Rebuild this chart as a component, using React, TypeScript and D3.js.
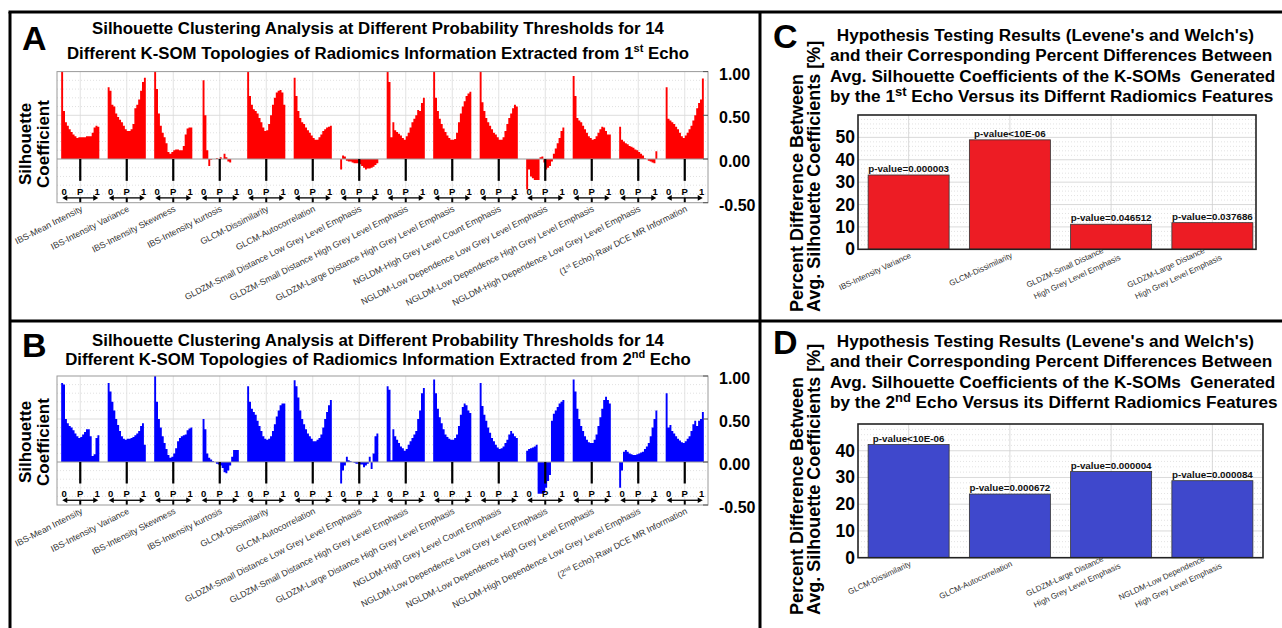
import React from 'react';
import * as d3 from 'd3';

// 14 radiomics feature groups (x categories of panels A and B)
const FEATURES = [
  'IBS-Mean Intensity',
  'IBS-Intensity Variance',
  'IBS-Intensity Skewness',
  'IBS-Intensity kurtosis',
  'GLCM-Dissimilarity',
  'GLCM-Autocorrelation',
  'GLDZM-Small Distance Low Grey Level Emphasis',
  'GLDZM-Small Distance High Grey Level Emphasis',
  'GLDZM-Large Distance High Grey Level Emphasis',
  'NGLDM-High Grey Level Count Emphasis',
  'NGLDM-Low Dependence Low Grey Level Emphasis',
  'NGLDM-Low Dependence High Grey Level Emphasis',
  'NGLDM-High Dependence Low Grey Level Emphasis',
  'Raw DCE MR Information',
];

// silhouette coefficient vs probability threshold (0 -> 1), 1st echo
const ECHO1 = [
  [1.0, 0.55, 0.42, 0.38, 0.34, 0.31, 0.28, 0.26, 0.24, 0.25, 0.25, 0.25, 0.25, 0.26, 0.26, 0.26, 0.3, 0.36, 0.38, 0.37],
  [0.82, 0.78, 0.62, 0.6, 0.52, 0.48, 0.45, 0.42, 0.38, 0.34, 0.32, 0.32, 0.34, 0.4, 0.58, 0.62, 0.68, 0.78, 0.88, 0.93],
  [1.0, 0.8, 0.52, 0.38, 0.3, 0.25, 0.18, 0.08, 0.06, 0.08, 0.1, 0.11, 0.11, 0.1, 0.1, 0.15, 0.28, 0.35, 0.36, 0.36],
  [0.0, 0.9, 0.5, 0.1, -0.08, -0.01, 0.0, 0.0, 0.01, 0.0, 0.02, 0.0, 0.06, 0.02, -0.03, -0.04, 0.0, 0.0, 0.0, 0.0],
  [1.0, 0.72, 0.62, 0.57, 0.55, 0.52, 0.47, 0.42, 0.36, 0.32, 0.33, 0.4, 0.5, 0.62, 0.7, 0.76, 0.78, 0.79, 0.76, 0.62],
  [0.93, 0.72, 0.55, 0.47, 0.42, 0.4, 0.36, 0.33, 0.3, 0.27, 0.24, 0.22, 0.22, 0.25, 0.28, 0.32, 0.34, 0.36, 0.37, 0.38],
  [-0.12, 0.04, 0.03, -0.02, -0.03, -0.03, -0.04, -0.05, -0.05, -0.05, -0.06, -0.08, -0.1, -0.12, -0.11, -0.11, -0.1, -0.09, -0.07, -0.05],
  [1.0, 0.88, 0.25, 0.42, 0.33, 0.31, 0.29, 0.27, 0.24, 0.22, 0.26, 0.3, 0.36, 0.42, 0.46, 0.5, 0.56, 0.55, 0.64, 0.7],
  [1.0, 0.7, 0.55, 0.46, 0.4, 0.35, 0.31, 0.27, 0.24, 0.22, 0.22, 0.23, 0.3, 0.42, 0.52, 0.6, 0.66, 0.72, 0.75, 0.77],
  [1.0, 0.65, 0.55, 0.47, 0.42, 0.38, 0.34, 0.3, 0.28, 0.25, 0.22, 0.22, 0.25, 0.32, 0.4, 0.47, 0.52, 0.58, 0.62, 0.6],
  [-0.35, -0.12, -0.2, -0.22, -0.24, -0.24, -0.24, 0.02, 0.03, -0.04, -0.12, -0.1, -0.08, -0.03, 0.06, 0.12, 0.18, 0.24, 0.32, 0.36],
  [0.95, 0.72, 0.47, 0.44, 0.42, 0.38, 0.34, 0.3, 0.26, 0.24, 0.22, 0.23, 0.26, 0.3, 0.34, 0.37, 0.36, 0.32, 0.28, 0.28],
  [0.37, 0.22, 0.2, 0.18, 0.17, 0.15, 0.14, 0.13, 0.11, 0.1, 0.08, 0.06, 0.04, 0.01, 0.0, -0.02, -0.03, -0.04, -0.05, 0.09],
  [0.82, 0.46, 0.44, 0.42, 0.4, 0.37, 0.34, 0.3, 0.26, 0.24, 0.27, 0.3, 0.34, 0.38, 0.44, 0.5, 0.58, 0.64, 0.68, 0.92],
];

// same, 2nd echo
const ECHO2 = [
  [0.92, 0.9, 0.5, 0.45, 0.42, 0.4, 0.37, 0.33, 0.3, 0.28, 0.29, 0.32, 0.35, 0.38, 0.38, 0.3, 0.07, 0.09, 0.28, 0.31],
  [0.92, 0.82, 0.7, 0.6, 0.5, 0.43, 0.36, 0.3, 0.27, 0.26, 0.27, 0.27, 0.28, 0.29, 0.31, 0.33, 0.36, 0.42, 0.45, 0.2],
  [1.0, 0.7, 0.5, 0.4, 0.3, 0.22, 0.15, 0.08, 0.05, 0.06, 0.1, 0.16, 0.24, 0.28, 0.3, 0.31, 0.32, 0.37, 0.39, 0.4],
  [0.0, 0.5, 0.38, 0.1, 0.05, 0.03, 0.01, 0.0, -0.02, -0.03, -0.04, -0.07, -0.12, -0.13, -0.1, -0.04, 0.06, 0.14, 0.14, 0.14],
  [0.88, 0.7, 0.62, 0.58, 0.55, 0.48, 0.42, 0.36, 0.3, 0.27, 0.26, 0.27, 0.3, 0.36, 0.44, 0.53, 0.6, 0.66, 0.68, 0.68],
  [0.95, 0.88, 0.75, 0.6, 0.5, 0.44, 0.38, 0.33, 0.3, 0.27, 0.24, 0.24, 0.26, 0.28, 0.32, 0.4, 0.5, 0.58, 0.66, 0.72],
  [-0.25, -0.1, -0.04, 0.06, 0.02, 0.01, 0.0, -0.01, -0.02, -0.02, -0.03, -0.03, -0.06, -0.04, -0.02, 0.06, -0.08, 0.1, 0.3, 0.33],
  [0.88, 0.84, 0.02, 0.38, 0.3, 0.26, 0.22, 0.18, 0.16, 0.13, 0.15, 0.2, 0.24, 0.28, 0.32, 0.36, 0.5, 0.6, 0.8, 0.86],
  [0.96, 0.8, 0.62, 0.52, 0.45, 0.38, 0.32, 0.29, 0.27, 0.26, 0.26, 0.28, 0.32, 0.42, 0.55, 0.64, 0.68, 0.66, 0.6, 0.57],
  [0.92, 0.65, 0.55, 0.48, 0.4, 0.34, 0.28, 0.24, 0.2, 0.17, 0.15, 0.16, 0.18, 0.22, 0.26, 0.32, 0.36, 0.33, 0.3, 0.28],
  [0.13, 0.15, 0.16, 0.17, 0.18, 0.2, -0.37, -0.37, -0.37, -0.36, -0.3, -0.22, -0.15, 0.48, 0.56, 0.6, 0.64, 0.68, 0.7, 0.72],
  [0.96, 0.82, 0.62, 0.5, 0.42, 0.36, 0.3, 0.26, 0.23, 0.22, 0.22, 0.26, 0.32, 0.42, 0.52, 0.62, 0.72, 0.76, 0.72, 0.68],
  [-0.3, -0.1, 0.12, 0.14, 0.12, 0.1, 0.09, 0.08, 0.08, 0.09, 0.1, 0.11, 0.12, 0.15, 0.18, 0.22, 0.3, 0.4, 0.5, 0.6],
  [0.8, 0.4, 0.43, 0.36, 0.33, 0.3, 0.27, 0.25, 0.23, 0.22, 0.24, 0.27, 0.3, 0.36, 0.44, 0.48, 0.42, 0.48, 0.5, 0.58],
];

const SIL_TICKS = [1, 0.5, 0, -0.5];

// hypothesis testing bars
const C_LABELS = [['IBS-Intensity Variance'], ['GLCM-Dissimilarity'], ['GLDZM-Small Distance', 'High Grey Level Emphasis'], ['GLDZM-Large Distance', 'High Grey Level Emphasis']];
const C_VALUES = [33.2, 48.9, 11.2, 11.9];
const C_PVALUES = ['p-value=0.000003', 'p-value<10E-06', 'p-value=0.046512', 'p-value=0.037686'];
const C_TICKS = [0, 10, 20, 30, 40, 50];

const D_LABELS = [['GLCM-Dissimilarity'], ['GLCM-Autocorrelation'], ['GLDZM-Large Distance', 'High Grey Level Emphasis'], ['NGLDM-Low Dependence', 'High Grey Level Emphasis']];
const D_VALUES = [42.3, 23.8, 32.2, 28.8];
const D_PVALUES = ['p-value<10E-06', 'p-value=0.000672', 'p-value=0.000004', 'p-value=0.000084'];
const D_TICKS = [0, 10, 20, 30, 40];

const FONT = 'Liberation Sans, Arial, sans-serif';
const HALF = 0.41; // half-width of a group in group units

function SilhouettePanel({ profiles, color, top, bottom, letterY, titleY, titleGap, ylabY, echo, sup }) {
  const x = d3.scaleLinear().domain([-0.5, 13.5]).range([57, 708]);
  const y = d3.scaleLinear().domain([-0.5, 1]).range([bottom, top]);
  const area = d3.area<{ p: number; v: number; k: number }>()
    .x(d => x(d.k - HALF + 2 * HALF * d.p))
    .y0(y(0))
    .y1(d => y(d.v))
    .curve(d3.curveStepAfter);
  const minor = d3.range(-4, 10).map(i => i / 10).filter(v => Math.abs(v * 2 - Math.round(v * 2)) > 1e-6);

  return (
    <g fontFamily={FONT}>
      <text x={22} y={letterY} fontSize={34} fontWeight="bold">{letterY < 100 ? 'A' : 'B'}</text>
      <text x={378} y={titleY} fontSize={16.8} fontWeight="bold" textAnchor="middle">
        Silhouette Clustering Analysis at Different Probability Thresholds for 14
      </text>
      <text x={378} y={titleY + titleGap} fontSize={16.8} fontWeight="bold" textAnchor="middle">
        Different K-SOM Topologies of Radiomics Information Extracted from {echo}
        <tspan fontSize={11} dy={-7}>{sup}</tspan>
        <tspan dy={7}> Echo</tspan>
      </text>

      {/* grid */}
      {minor.map(v => (
        <line key={'m' + v} x1={57} x2={708} y1={y(v)} y2={y(v)} stroke="#d9d9d9" strokeWidth={0.8} strokeDasharray="1,2" />
      ))}
      {[0.5].map(v => (
        <line key={'M' + v} x1={57} x2={708} y1={y(v)} y2={y(v)} stroke="#d4d4d4" strokeWidth={0.8} />
      ))}
      {FEATURES.map((f, k) => (
        <line key={'v' + k} x1={x(k)} x2={x(k)} y1={top} y2={bottom} stroke="#dcdcdc" strokeWidth={0.8} />
      ))}

      {/* areas */}
      {profiles.map((vals, k) => {
        const n = vals.length;
        const pts = vals.map((v, i) => ({ p: i / n, v, k }));
        pts.push({ p: 1, v: vals[n - 1], k });
        return <path key={'a' + k} d={area(pts) || ''} fill={color} />;
      })}
      <line x1={57} x2={708} y1={y(0)} y2={y(0)} stroke="#9a9a9a" strokeWidth={1} />

      {/* per-group threshold axis */}
      {FEATURES.map((f, k) => {
        const cx = x(k);
        const ya = y(-0.445);
        return (
          <g key={'g' + k}>
            <line x1={cx} x2={cx} y1={y(0)} y2={y(-0.25)} stroke="#000" strokeWidth={2.2} />
            <text x={cx - 16} y={y(-0.37) + 3.5} fontSize={9.5} fontWeight="bold" textAnchor="middle">0</text>
            <text x={cx} y={y(-0.37) + 3.5} fontSize={9.5} fontWeight="bold" textAnchor="middle">P</text>
            <text x={cx + 17} y={y(-0.37) + 3.5} fontSize={9.5} fontWeight="bold" textAnchor="middle">1</text>
            <line x1={cx - 15} x2={cx + 15} y1={ya} y2={ya} stroke="#000" strokeWidth={1.3} />
            <path d={`M${cx - 18},${ya} l5,-2.8 l0,5.6 z`} fill="#000" />
            <path d={`M${cx + 18},${ya} l-5,-2.8 l0,5.6 z`} fill="#000" />
            <line x1={cx} x2={cx} y1={ya} y2={bottom} stroke="#000" strokeWidth={2} />
          </g>
        );
      })}

      <rect x={57} y={top} width={651} height={bottom - top} fill="none" stroke="#9a9a9a" strokeWidth={1} />
      {SIL_TICKS.map(v => (
        <g key={'t' + v}>
          <line x1={703} x2={708} y1={y(v)} y2={y(v)} stroke="#555" />
          <text x={719} y={y(v) + 8} fontSize={16} fontWeight="bold">{v.toFixed(2)}</text>
        </g>
      ))}

      {/* x labels */}
      {FEATURES.map((f, k) => (
        <text key={'l' + k} transform={`translate(${x(k) + 3},${bottom + 8}) rotate(-27)`} textAnchor="end" fontSize={8.8} fill="#333">
          {k === 13 ? (
            <>
              ({echo}<tspan fontSize={6} dy={-3}>{sup}</tspan><tspan dy={3}> Echo)-{f}</tspan>
            </>
          ) : f}
        </text>
      ))}

      <text transform={`translate(31,${ylabY}) rotate(-90)`} textAnchor="middle" fontSize={17} fontWeight="bold">Silhouette</text>
      <text transform={`translate(49,${ylabY}) rotate(-90)`} textAnchor="middle" fontSize={17} fontWeight="bold">Coefficient</text>
    </g>
  );
}

function HypothesisPanel({ values, labels, pvalues, ticks, color, letter, top, bottom, right, yMax, titleY, echo, sup, ylabBottom }) {
  const x = d3.scaleLinear().domain([0.5, 4.5]).range([858, 1263]);
  const y = d3.scaleLinear().domain([0, yMax]).range([bottom, top]);
  const minor = d3.range(2, yMax, 2).filter(v => v % 10 !== 0);
  const titles = [
    ' Hypothesis Testing Results (Levene\'s and Welch\'s)',
    'and their Corresponding Percent Differences Between',
    'Avg. Silhouette Coefficients of the K-SOMs  Generated',
  ];
  return (
    <g fontFamily={FONT}>
      <text x={773} y={titleY + 7} fontSize={34} fontWeight="bold">{letter}</text>
      {titles.map((t, i) => (
        <text key={i} x={i === 0 ? 832 : 830} y={titleY + i * 20.3} fontSize={17.2} fontWeight="bold" style={{ whiteSpace: 'pre' }}>{t}</text>
      ))}
      <text x={830} y={titleY + 3 * 20.3} fontSize={17.2} fontWeight="bold">
        by the {echo}<tspan fontSize={13} dy={-6}>{sup}</tspan><tspan dy={6}> Echo Versus its Differnt Radiomics Features</tspan>
      </text>

      {minor.map(v => (
        <line key={'m' + v} x1={858} x2={right} y1={y(v)} y2={y(v)} stroke="#dadada" strokeWidth={0.8} strokeDasharray="1,2" />
      ))}
      {ticks.filter(v => v > 0).map(v => (
        <line key={'M' + v} x1={858} x2={right} y1={y(v)} y2={y(v)} stroke="#d0d0d0" strokeWidth={0.8} />
      ))}
      {values.map((v, i) => (
        <line key={'v' + i} x1={x(i + 1)} x2={x(i + 1)} y1={top} y2={bottom} stroke="#d0d0d0" strokeWidth={0.8} />
      ))}

      {values.map((v, i) => (
        <g key={'b' + i}>
          <rect x={x(i + 0.6)} y={y(v)} width={x(i + 1.4) - x(i + 0.6)} height={y(0) - y(v)} fill={color} stroke="#333" strokeWidth={0.8} />
          <text x={x(i + 1)} y={y(v) - 3} textAnchor="middle" fontSize={9.8} fontWeight="bold" fill="#111">{pvalues[i]}</text>
        </g>
      ))}

      <rect x={858} y={top} width={right - 858} height={bottom - top} fill="none" stroke="#222" strokeWidth={1.6} />
      {ticks.map(v => (
        <text key={'t' + v} x={855} y={y(v) + 6} textAnchor="end" fontSize={17.5} fontWeight="bold">{v}</text>
      ))}

      {labels.map((lines, i) => {
        const cx = x(i + 1);
        if (lines.length === 1) {
          return (
            <text key={'l' + i} transform={`translate(${cx + 3},${bottom + 8}) rotate(-25)`} textAnchor="end" fontSize={8} fill="#333">{lines[0]}</text>
          );
        }
        return (
          <g key={'l' + i}>
            <text transform={`translate(${cx - 7},${bottom + 3}) rotate(-25)`} textAnchor="end" fontSize={8} fill="#333">{lines[0]}</text>
            <text transform={`translate(${cx + 10},${bottom + 10}) rotate(-25)`} textAnchor="end" fontSize={8} fill="#333">{lines[1]}</text>
          </g>
        );
      })}

      <text transform={`translate(803,${ylabBottom}) rotate(-90)`} fontSize={18} fontWeight="bold">Percent Difference Between</text>
      <text transform={`translate(820,${ylabBottom}) rotate(-90)`} fontSize={18} fontWeight="bold">Avg. Silhouette Coefficients [%]</text>
    </g>
  );
}

export default function App() {
  return (
    <svg width={1282} height={628} style={{ position: 'absolute', left: 0, top: 0, background: '#fff' }}>
      <rect width={1282} height={628} fill="#fff" />
      <SilhouettePanel profiles={ECHO1} color="#ff0000" top={71.6} bottom={202.7} letterY={50} titleY={34} titleGap={25} ylabY={144} echo="1" sup="st" />
      <SilhouettePanel profiles={ECHO2} color="#0000ff" top={376} bottom={505} letterY={357} titleY={346} titleGap={19} ylabY={442} echo="2" sup="nd" />
      <HypothesisPanel values={C_VALUES} labels={C_LABELS} pvalues={C_PVALUES} ticks={C_TICKS} color="#ed1c24" letter="C"
        top={115} bottom={249.3} right={1256} yMax={60} titleY={41} echo="1" sup="st" ylabBottom={312} />
      <HypothesisPanel values={D_VALUES} labels={D_LABELS} pvalues={D_PVALUES} ticks={D_TICKS} color="#3f48cc" letter="D"
        top={424} bottom={557.7} right={1263} yMax={50} titleY={347} echo="2" sup="nd" ylabBottom={615} />
      {/* panel borders */}
      <g stroke="#000" strokeWidth={3} fill="none">
        <line x1={8.5} x2={1282} y1={12} y2={12} />
        <line x1={10} x2={10} y1={12} y2={628} />
        <line x1={760} x2={760} y1={12} y2={628} />
        <line x1={10} x2={1282} y1={321} y2={321} />
      </g>
    </svg>
  );
}
